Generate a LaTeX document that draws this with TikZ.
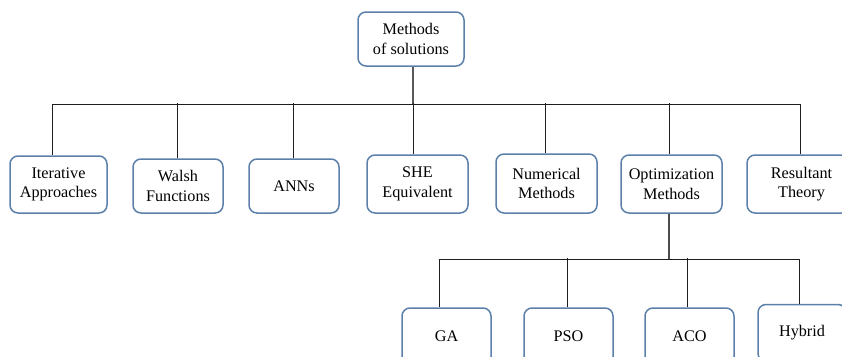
\documentclass[tikz,border=0pt]{standalone}
\usepackage{fontspec}
\setmainfont{Liberation Serif}
\definecolor{boxborder}{RGB}{92,128,170}
\definecolor{linecol}{RGB}{30,30,30}
\begin{document}
\begin{tikzpicture}[x=1pt,y=-1pt,
  box/.style={draw=boxborder, line width=1.5pt, rounded corners=8pt, fill=white,
    align=center, inner sep=0pt,
    font=\fontsize{16.2}{19.5}\selectfont},
  conn/.style={draw=linecol, line width=1pt}]
\useasboundingbox (0,0) rectangle (842,356);
\clip (0,0) rectangle (842,356);
\fill[white] (0,0) rectangle (842,356);

% top
\node[box, minimum width=106pt, minimum height=54pt] (top) at (411,39) {Methods\\of solutions};

% second row
\node[box, minimum width=97pt, minimum height=57pt] (it) at (58.5,184.5) {Iterative\\Approaches};
\node[box, minimum width=90pt, minimum height=54pt] (wa) at (178,186) {Walsh\\Functions};
\node[box, minimum width=90pt, minimum height=54pt] (an) at (294,186) {ANNs};
\node[box, minimum width=101pt, minimum height=58pt] (sh) at (417.5,184) {SHE\\Equivalent};
\node[box, minimum width=101pt, minimum height=59pt] (nu) at (546.5,183.5) {Numerical\\Methods};
\node[box, minimum width=101pt, minimum height=58pt] (op) at (671.5,184) {Optimization\\Methods};
\node[box, minimum width=109pt, minimum height=58pt] (re) at (801.5,184) {Resultant\\Theory};

% third row
\node[box, minimum width=89pt, minimum height=57pt] (ga) at (446.5,336.5) {GA};
\node[box, minimum width=89pt, minimum height=57pt] (ps) at (568.5,336.5) {PSO};
\node[box, minimum width=89pt, minimum height=57pt] (ac) at (689.5,336.5) {ACO};
\node[box, minimum width=88pt, minimum height=57pt] (hy) at (802,333) {Hybrid};

% buses
\coordinate (busL) at (52,104);
\coordinate (busR) at (800,104);
\coordinate (bus2L) at (439,259);
\coordinate (bus2R) at (799,259);

\draw[conn, draw=black!65, line width=1.3pt] ([xshift=2pt]top.south) -- ++(0,38);
\draw[conn] (busL) -- (busR);
\draw[conn] (busL) -- ([xshift=-6.5pt]it.north);
\draw[conn] ([xshift=-1pt]wa.north) -- ++(0,-55);
\draw[conn] ([xshift=-1pt]an.north) -- ++(0,-55);
\draw[conn] ([xshift=-4.5pt]sh.north) -- ++(0,-51);
\draw[conn] ([xshift=-1.5pt]nu.north) -- ++(0,-50);
\draw[conn] ([xshift=-2.5pt]op.north) -- ++(0,-51);
\draw[conn] (busR) -- ([xshift=-1.5pt]re.north);

\draw[conn, draw=black!70, line width=1.1pt] ([xshift=-2.5pt]op.south) -- ++(0,46);
\draw[conn] (bus2L) -- (bus2R);
\draw[conn] (bus2L) -- ([xshift=-7.5pt]ga.north);
\draw[conn] ([xshift=-1.5pt]ps.north) -- ++(0,-49);
\draw[conn] ([xshift=-2.5pt]ac.north) -- ++(0,-49);
\draw[conn] (bus2R) -- ([xshift=-3pt]hy.north);
\end{tikzpicture}
\end{document}
